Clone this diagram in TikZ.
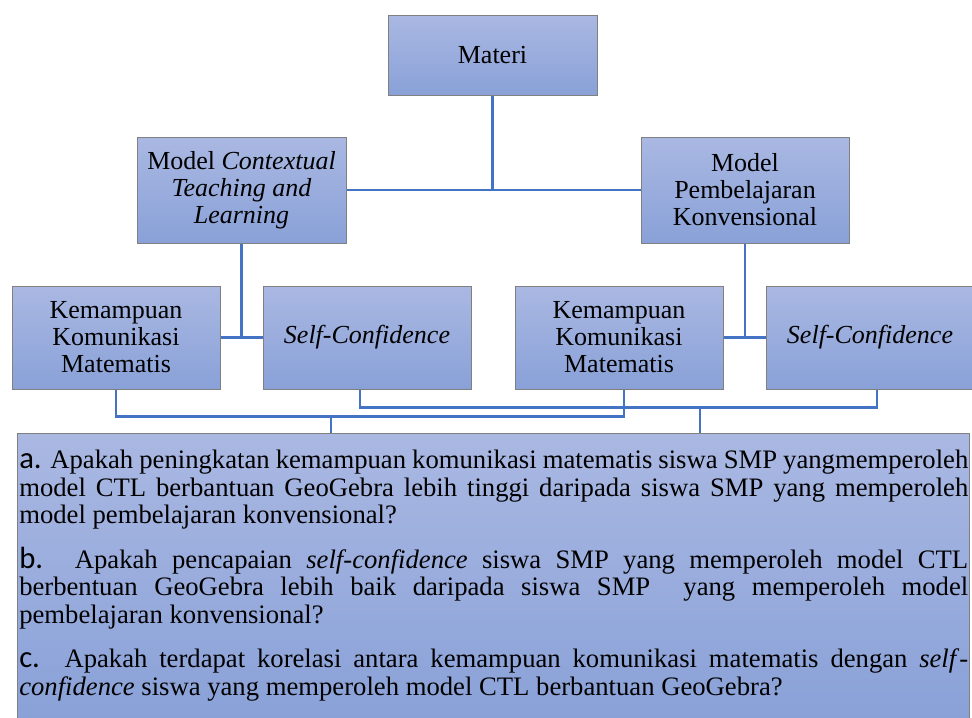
\documentclass[tikz,border=0pt]{standalone}
\usepackage{fontspec}
\setmainfont{Liberation Serif}
\newfontfamily\lblfont{Carlito}
\definecolor{boxtop}{RGB}{170,184,226}
\definecolor{boxbot}{RGB}{137,161,216}
\definecolor{connblue}{RGB}{68,114,196}
\definecolor{edgegray}{RGB}{128,128,128}
\tikzset{
  box/.style={draw=edgegray, line width=0.75pt, top color=boxtop, bottom color=boxbot,
    align=center, inner sep=1pt, font=\fontsize{19.5}{20.3}\selectfont},
  conn/.style={draw=connblue, line width=2pt},
  lbl/.style={inner sep=0pt, anchor=north west, font=\fontsize{20}{20.6}\selectfont}
}
\newcommand{\qlab}[1]{{\lblfont\fontsize{23}{20.6}\selectfont #1}}
\begin{document}
\begin{tikzpicture}[x=0.75pt,y=-0.75pt]
\useasboundingbox (0,0) rectangle (972,718);
% boxes
\node[box, minimum width=156.75pt, minimum height=60pt] (materi) at (492.5,55) {Materi};
\node[box, minimum width=156.75pt, minimum height=79.5pt] (ctl) at (241.5,190)
  {Model \textit{Contextual}\\ \textit{Teaching and}\\ \textit{Learning}};
\node[box, minimum width=156pt, minimum height=79.5pt] (konv) at (745,190)
  {Model\\ Pembelajaran\\ Konvensional};
\node[box, minimum width=156pt, minimum height=77.25pt] (kem1) at (116,337.5)
  {Kemampuan\\ Komunikasi\\ Matematis};
\node[box, minimum width=156pt, minimum height=77.25pt] (sc1) at (367,337.5)
  {\textit{Self-Confidence}};
\node[box, minimum width=156pt, minimum height=77.25pt] (kem2) at (619,337.5)
  {Kemampuan\\ Komunikasi\\ Matematis};
\node[box, minimum width=156pt, minimum height=77.25pt] (sc2) at (870,337.5)
  {\textit{Self-Confidence}};
\node[box, minimum width=714pt, minimum height=216.75pt] (q) at (493,577.5) {};
\node[lbl] (qt) at (19,450) {\vbox{\hsize=711.75pt \baselineskip=20.6pt \parskip=0pt
\hbox to\hsize{\qlab{a.} Apakah peningkatan kemampuan komunikasi matematis siswa SMP yangmemperoleh}
\hbox to\hsize{model CTL berbantuan GeoGebra lebih tinggi daripada siswa SMP yang memperoleh}
\hbox{model pembelajaran konvensional?}
\vskip 12.75pt
\hbox to\hsize{\qlab{b.} Apakah pencapaian \textit{self-confidence} siswa SMP yang memperoleh model CTL}
\hbox to\hsize{berbentuan GeoGebra lebih baik daripada siswa SMP\ \ yang memperoleh model}
\hbox{pembelajaran konvensional?}
\vskip 12.75pt
\hbox to\hsize{\qlab{c.} Apakah terdapat korelasi antara kemampuan komunikasi matematis dengan \textit{self}-}
\hbox{\textit{confidence} siswa yang memperoleh model CTL berbantuan GeoGebra?}
}};
% connectors
\draw[conn] (materi.south) -- (materi.south |- ctl.east);
\draw[conn] (ctl.east) -- (konv.west);
\draw[conn] (ctl.south) -- (ctl.south |- kem1.east);
\draw[conn] (kem1.east) -- (sc1.west);
\draw[conn] (konv.south) -- (konv.south |- kem2.east);
\draw[conn] (kem2.east) -- (sc2.west);
\draw[conn] (kem1.south) -- ++(0,27) -| ([xshift=3.75pt]kem2.south);
\draw[conn] ([xshift=-5.25pt]sc1.south) -- ++(0,18) -| ([xshift=5.25pt]sc2.south);
\coordinate (j1) at (331,416);
\coordinate (j2) at (700,407);
\draw[conn] (j1) -- (j1 |- q.north);
\draw[conn] (j2) -- (j2 |- q.north);
\end{tikzpicture}
\end{document}
